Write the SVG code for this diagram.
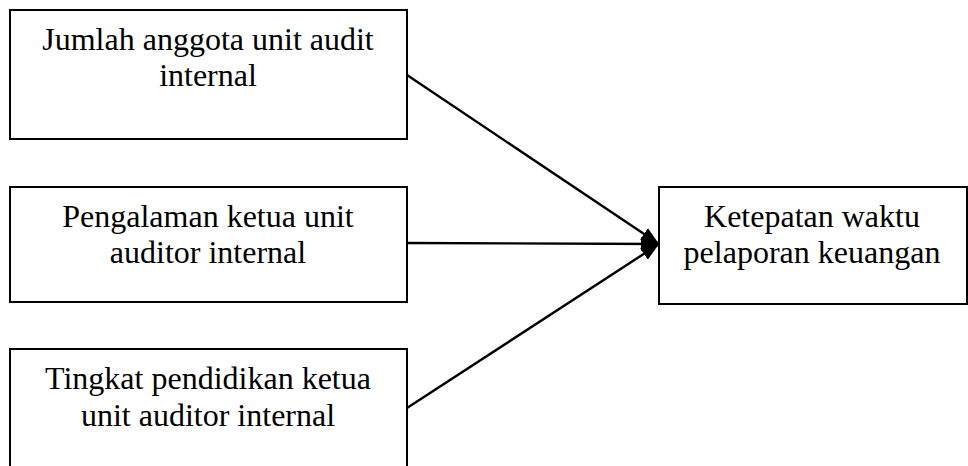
<svg xmlns="http://www.w3.org/2000/svg" width="968" height="466" viewBox="0 0 968 466">
<style>
.box{fill:#fff;stroke:#000;stroke-width:2}
.lbl{font-family:"Liberation Serif","Times New Roman",serif;font-size:32px;fill:#000;text-anchor:middle}
.con{stroke:#000;stroke-width:2.4;fill:none}
</style>
<defs>
<marker id="ah" markerUnits="userSpaceOnUse" markerWidth="20" markerHeight="16" refX="18" refY="8" orient="auto">
<path d="M0,1 L18,8 L0,15 Z" fill="#000"/>
</marker>
</defs>
<rect width="968" height="466" fill="#fff"/>
<g id="n1">
<rect class="box" x="10" y="10" width="397" height="129"/>
<text class="lbl" x="208" y="50">Jumlah anggota unit audit</text>
<text class="lbl" x="208" y="86">internal</text>
</g>
<g id="n2">
<rect class="box" x="10" y="187" width="397" height="115"/>
<text class="lbl" x="208" y="227">Pengalaman ketua unit</text>
<text class="lbl" x="208" y="263">auditor internal</text>
</g>
<g id="n3">
<rect class="box" x="10" y="349" width="397" height="130"/>
<text class="lbl" x="208" y="389">Tingkat pendidikan ketua</text>
<text class="lbl" x="208" y="426">unit auditor internal</text>
</g>
<g id="n4">
<rect class="box" x="659" y="187" width="308" height="117"/>
<text class="lbl" x="812" y="227">Ketepatan waktu</text>
<text class="lbl" x="812" y="263">pelaporan keuangan</text>
</g>
<g id="connectors">
<line class="con" x1="407" y1="75" x2="659" y2="244" marker-end="url(#ah)"/>
<line class="con" x1="407" y1="243" x2="659" y2="244" marker-end="url(#ah)"/>
<line class="con" x1="407" y1="408" x2="659" y2="244" marker-end="url(#ah)"/>
</g>
</svg>
